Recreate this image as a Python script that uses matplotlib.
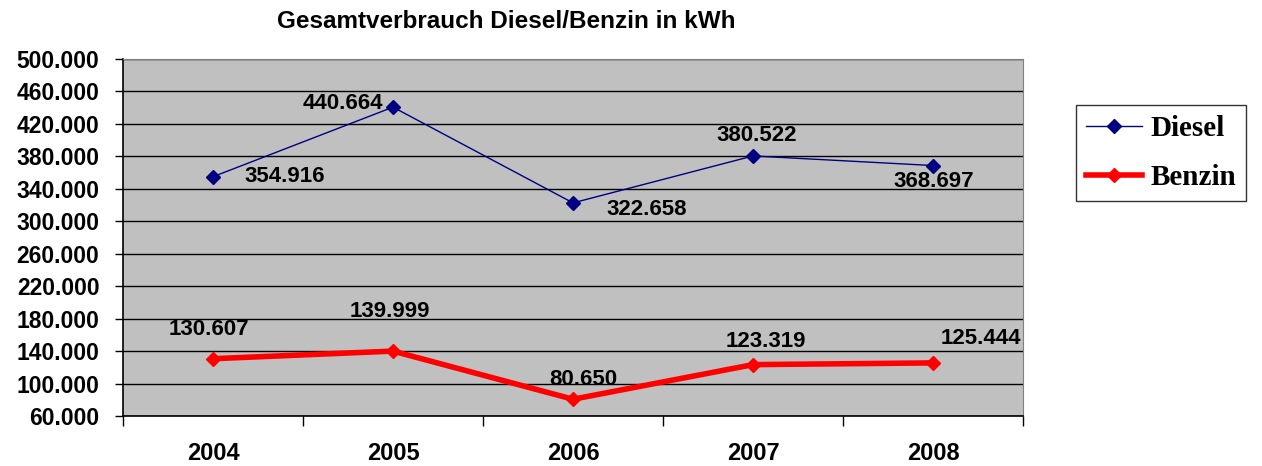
import numpy as np
import matplotlib.pyplot as plt
from matplotlib.ticker import FixedLocator, NullFormatter

jahre = ["2004", "2005", "2006", "2007", "2008"]
diesel = [354916, 440664, 322658, 380522, 368697]
benzin = [130607, 139999, 80650, 123319, 125444]
diesel_labels = ["354.916", "440.664", "322.658", "380.522", "368.697"]
benzin_labels = ["130.607", "139.999", "80.650", "123.319", "125.444"]
y_ticks = list(range(60000, 500001, 40000))

# label offsets in pixels (hand placed like the Excel original)
off_d = [(72, 0), (-50, 4), (74, -7), (4, 20), (1, -16)]
off_b = [(-4, 29), (-3, 40), (10, 20), (13, 23), (48, 24)]

plt.rcParams["font.family"] = ["Liberation Sans", "DejaVu Sans"]

fig = plt.figure(figsize=(12.62, 4.66), dpi=100)
ax = fig.add_axes([123/1262, 1-416/466, 900/1262, 357/466])
ax.set_facecolor("#c0c0c0")

x = np.arange(len(jahre))
ax.plot(x, diesel, color="#000080", lw=1, marker="D", ms=7, label="Diesel", zorder=3)
ax.plot(x, benzin, color="#ff0000", lw=4, marker="D", ms=7, label="Benzin", zorder=3)

for xi, v, t, o in zip(x, diesel, diesel_labels, off_d):
    ax.annotate(t, (xi, v), xytext=o, textcoords="offset pixels",
                ha="center", va="center", fontsize=16, fontweight="bold", zorder=4)
for xi, v, t, o in zip(x, benzin, benzin_labels, off_b):
    ax.annotate(t, (xi, v), xytext=o, textcoords="offset pixels",
                ha="center", va="center", fontsize=16, fontweight="bold", zorder=4)

ax.set_xlim(-0.5, len(jahre) - 0.5)
ax.set_ylim(60000, 500000)
ax.set_yticks(y_ticks)
ax.set_yticklabels([f"{v:,}".replace(",", ".") for v in y_ticks],
                   fontsize=16.5, fontweight="bold")
ax.yaxis.grid(True, color="black", lw=1)
ax.set_axisbelow(True)

ax.xaxis.set_major_locator(FixedLocator(np.arange(-0.5, len(jahre), 1)))
ax.xaxis.set_major_formatter(NullFormatter())
ax.xaxis.set_minor_locator(FixedLocator(x))
ax.set_xticklabels(jahre, minor=True, fontsize=17, fontweight="bold")
ax.tick_params(axis="x", which="major", length=7, width=1)
ax.tick_params(axis="x", which="minor", length=0, pad=19)
ax.tick_params(axis="y", length=6, width=1, pad=11)

for s in ["top", "right"]:
    ax.spines[s].set_color("#808080")
for s in ["left", "bottom"]:
    ax.spines[s].set_color("black")
    ax.spines[s].set_linewidth(1.2)

fig.text(506/1262, 1-22/466, "Gesamtverbrauch Diesel/Benzin in kWh",
         ha="center", va="center", fontsize=17.5, fontweight="bold")

leg = fig.legend(loc="upper left", bbox_to_anchor=(1076/1262, 1-105/466),
                 borderaxespad=0, borderpad=0.35, labelspacing=0.75,
                 handlelength=1.9, handletextpad=0.3,
                 prop={"family": ["Liberation Serif"], "size": 21, "weight": "bold"},
                 frameon=True, fancybox=False, edgecolor="black")
leg.get_frame().set_linewidth(1)

plt.savefig("out.png", dpi=100, facecolor="white")
